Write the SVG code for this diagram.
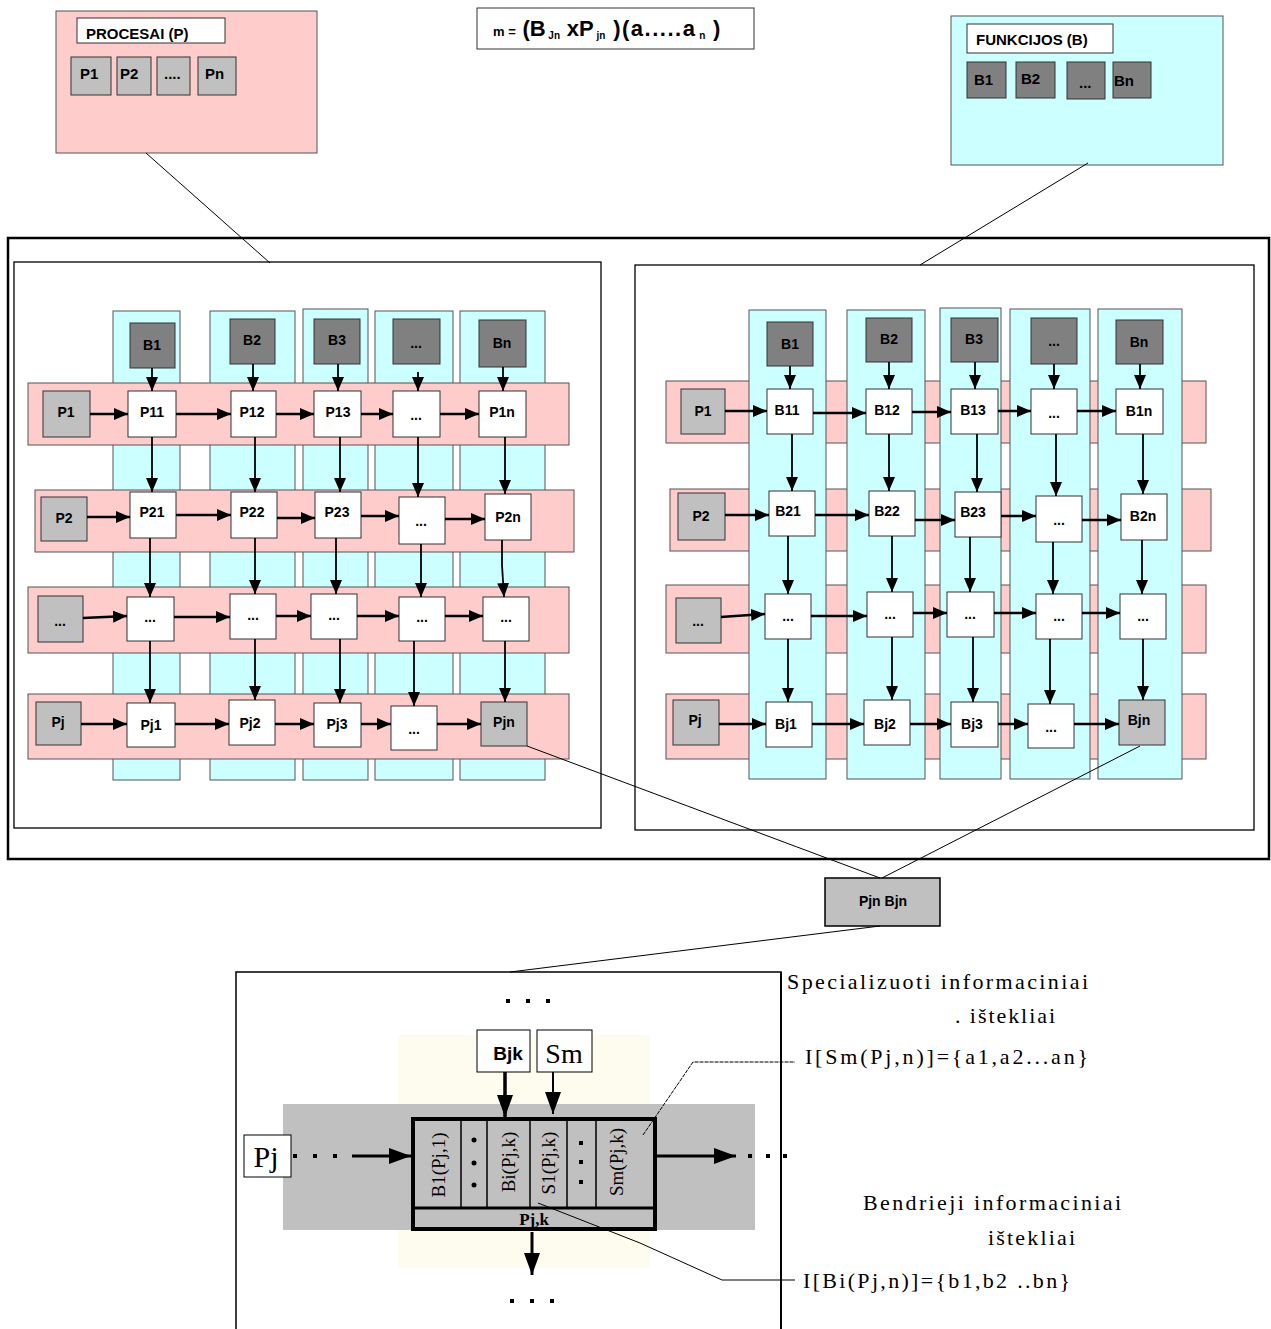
<svg xmlns="http://www.w3.org/2000/svg" width="1271" height="1329" viewBox="0 0 1271 1329">
<style>
.bg{fill:#fff}
.pink{fill:#ffcccc;stroke:#555;stroke-width:1}
.cyan{fill:#ccffff;stroke:#555;stroke-width:1}
.dk{fill:#808080;stroke:#333;stroke-width:1}
.lt{fill:#c0c0c0;stroke:#333;stroke-width:1}
.wh{fill:#fff;stroke:#333;stroke-width:1}
.frame{fill:none;stroke:#000;stroke-width:1.3}
.t{font-family:"Liberation Sans",Arial,sans-serif;font-weight:bold;font-size:14px;fill:#000;text-anchor:middle}
.tl{font-family:"Liberation Sans",Arial,sans-serif;font-weight:bold;font-size:15px;fill:#000}
.ser{font-family:"Liberation Serif","Times New Roman",serif;fill:#000}
.h{stroke:#000;stroke-width:2.5;fill:none}
.v{stroke:#000;stroke-width:1.8;fill:none}
.thin{stroke:#000;stroke-width:1;fill:none}
</style>
<defs>
<marker id="ah" markerUnits="userSpaceOnUse" markerWidth="14" markerHeight="12" refX="14" refY="6" orient="auto">
<path d="M0,0 L14,6 L0,12 z" fill="#000"/>
</marker>
<marker id="ahv" markerUnits="userSpaceOnUse" markerWidth="14" markerHeight="12" refX="14" refY="6" orient="auto">
<path d="M0,0 L14,6 L0,12 z" fill="#000"/>
</marker>
<marker id="ahb" markerUnits="userSpaceOnUse" markerWidth="22" markerHeight="16" refX="22" refY="8" orient="auto">
<path d="M0,0 L22,8 L0,16 z" fill="#000"/>
</marker>
</defs>
<rect class="bg" x="0" y="0" width="1271" height="1329"/>

<g id="procesai">
<rect class="pink" x="56" y="11" width="261" height="142"/>
<rect class="wh" x="77" y="18" width="148" height="25"/>
<text class="tl" x="86" y="39" font-size="14">PROCESAI (P)</text>
<rect class="lt" x="71" y="57" width="40" height="38"/><text class="tl" x="80" y="79">P1</text>
<rect class="lt" x="117" y="57" width="34" height="38"/><text class="tl" x="120" y="79">P2</text>
<rect class="lt" x="157" y="57" width="33" height="38"/><text class="tl" x="164" y="79" font-size="11">....</text>
<rect class="lt" x="198" y="57" width="38" height="38"/><text class="tl" x="205" y="79">Pn</text>
</g>

<g id="formula">
<rect x="477" y="8" width="277" height="41" fill="#fff" stroke="#333" stroke-width="1"/>
<text x="493" y="36" font-family="Liberation Sans,Arial,sans-serif" font-weight="bold" fill="#000"><tspan font-size="13">m = </tspan><tspan font-size="22" dx="3">(B</tspan><tspan font-size="10" dy="3"> Jn </tspan><tspan font-size="22" dy="-3" dx="4">xP</tspan><tspan font-size="10" dy="3"> jn </tspan><tspan font-size="22" dy="-3" dx="5" letter-spacing="1.5">)(a.....a</tspan><tspan font-size="10" dy="3"> n </tspan><tspan font-size="22" dy="-3" dx="5">)</tspan></text>
</g>

<g id="funkcijos">
<rect class="cyan" x="951" y="16" width="272" height="149"/>
<rect class="wh" x="967" y="24" width="146" height="29"/>
<text class="tl" x="976" y="45" font-size="15">FUNKCIJOS (B)</text>
<rect class="dk" x="967" y="62" width="39" height="36"/><text class="tl" x="974" y="85">B1</text>
<rect class="dk" x="1016" y="62" width="39" height="36"/><text class="tl" x="1021" y="84">B2</text>
<rect class="dk" x="1067" y="62" width="38" height="37"/><text class="tl" x="1079" y="88" font-size="11">...</text>
<rect class="dk" x="1113" y="62" width="38" height="36"/><text class="tl" x="1114" y="86">Bn</text>
</g>

<g id="frames">
<rect x="8" y="238" width="1261" height="621" fill="none" stroke="#000" stroke-width="2.5"/>
<rect class="frame" x="14" y="262" width="587" height="566"/>
<rect class="frame" x="635" y="265" width="619" height="565"/>
</g>

<g id="left-grid">
<rect class="cyan" x="113" y="311" width="67" height="469"/>
<rect class="cyan" x="210" y="311" width="85" height="469"/>
<rect class="cyan" x="303" y="309" width="65" height="471"/>
<rect class="cyan" x="375" y="311" width="78" height="469"/>
<rect class="cyan" x="460" y="311" width="85" height="469"/>
<rect class="pink" x="28" y="383" width="541" height="62"/>
<rect class="pink" x="35" y="490" width="539" height="62"/>
<rect class="pink" x="28" y="587" width="541" height="66"/>
<rect class="pink" x="28" y="694" width="541" height="65"/>

<g id="L-B1"><rect class="dk" x="130" y="323" width="45" height="45"/><text class="t" x="152" y="350">B1</text></g>
<g id="L-B2"><rect class="dk" x="230" y="319" width="45" height="45"/><text class="t" x="252" y="345">B2</text></g>
<g id="L-B3"><rect class="dk" x="314" y="319" width="46" height="45"/><text class="t" x="337" y="345">B3</text></g>
<g id="L-Bx"><rect class="dk" x="393" y="319" width="47" height="45"/><text class="t" x="416" y="348" font-size="10">...</text></g>
<g id="L-Bn"><rect class="dk" x="479" y="320" width="47" height="47"/><text class="t" x="502" y="348">Bn</text></g>

<g id="L-P1"><rect class="lt" x="43" y="391" width="47" height="46"/><text class="t" x="66" y="417">P1</text></g>
<g id="L-P11"><rect class="wh" x="128" y="391" width="48" height="46"/><text class="t" x="152" y="417">P11</text></g>
<g id="L-P12"><rect class="wh" x="231" y="391" width="45" height="46"/><text class="t" x="252" y="417">P12</text></g>
<g id="L-P13"><rect class="wh" x="314" y="391" width="47" height="46"/><text class="t" x="338" y="417">P13</text></g>
<g id="L-P1x"><rect class="wh" x="393" y="391" width="47" height="46"/><text class="t" x="416" y="420" font-size="10">...</text></g>
<g id="L-P1n"><rect class="wh" x="479" y="391" width="47" height="46"/><text class="t" x="502" y="417">P1n</text></g>

<g id="L-P2"><rect class="lt" x="41" y="497" width="46" height="44"/><text class="t" x="64" y="523">P2</text></g>
<g id="L-P21"><rect class="wh" x="130" y="492" width="46" height="46"/><text class="t" x="152" y="517">P21</text></g>
<g id="L-P22"><rect class="wh" x="231" y="492" width="46" height="46"/><text class="t" x="252" y="517">P22</text></g>
<g id="L-P23"><rect class="wh" x="315" y="492" width="46" height="46"/><text class="t" x="337" y="517">P23</text></g>
<g id="L-P2x"><rect class="wh" x="399" y="497" width="46" height="47"/><text class="t" x="421" y="526" font-size="10">...</text></g>
<g id="L-P2n"><rect class="wh" x="485" y="494" width="46" height="46"/><text class="t" x="508" y="522">P2n</text></g>

<g id="L-Px"><rect class="lt" x="38" y="596" width="45" height="46"/><text class="t" x="60" y="626" font-size="10">...</text></g>
<g id="L-Px1"><rect class="wh" x="127" y="597" width="47" height="44"/><text class="t" x="150" y="622" font-size="10">...</text></g>
<g id="L-Px2"><rect class="wh" x="230" y="594" width="46" height="45"/><text class="t" x="253" y="620" font-size="10">...</text></g>
<g id="L-Px3"><rect class="wh" x="311" y="594" width="46" height="45"/><text class="t" x="334" y="620" font-size="10">...</text></g>
<g id="L-Pxx"><rect class="wh" x="399" y="597" width="46" height="44"/><text class="t" x="422" y="622" font-size="10">...</text></g>
<g id="L-Pxn"><rect class="wh" x="483" y="597" width="46" height="44"/><text class="t" x="506" y="622" font-size="10">...</text></g>

<g id="L-Pj"><rect class="lt" x="36" y="702" width="45" height="43"/><text class="t" x="58" y="727">Pj</text></g>
<g id="L-Pj1"><rect class="wh" x="127" y="703" width="48" height="44"/><text class="t" x="151" y="730">Pj1</text></g>
<g id="L-Pj2"><rect class="wh" x="229" y="700" width="46" height="45"/><text class="t" x="250" y="728">Pj2</text></g>
<g id="L-Pj3"><rect class="wh" x="314" y="703" width="47" height="44"/><text class="t" x="337" y="729">Pj3</text></g>
<g id="L-Pjx"><rect class="wh" x="391" y="706" width="46" height="44"/><text class="t" x="414" y="734" font-size="10">...</text></g>
<g id="L-Pjn"><rect class="lt" x="481" y="702" width="46" height="44"/><text class="t" x="504" y="727">Pjn</text></g>
</g>

<g id="right-grid">
<rect class="pink" x="666" y="381" width="540" height="62"/>
<rect class="pink" x="670" y="489" width="541" height="62"/>
<rect class="pink" x="666" y="585" width="540" height="68"/>
<rect class="pink" x="666" y="694" width="540" height="65"/>
<rect class="cyan" x="749" y="310" width="77" height="469"/>
<rect class="cyan" x="847" y="310" width="78" height="469"/>
<rect class="cyan" x="940" y="308" width="61" height="471"/>
<rect class="cyan" x="1010" y="309" width="80" height="470"/>
<rect class="cyan" x="1098" y="309" width="84" height="470"/>

<g id="R-B1"><rect class="dk" x="767" y="322" width="46" height="44"/><text class="t" x="790" y="349">B1</text></g>
<g id="R-B2"><rect class="dk" x="866" y="318" width="46" height="44"/><text class="t" x="889" y="344">B2</text></g>
<g id="R-B3"><rect class="dk" x="951" y="318" width="47" height="44"/><text class="t" x="974" y="344">B3</text></g>
<g id="R-Bx"><rect class="dk" x="1031" y="318" width="46" height="46"/><text class="t" x="1054" y="346" font-size="10">...</text></g>
<g id="R-Bn"><rect class="dk" x="1116" y="320" width="47" height="44"/><text class="t" x="1139" y="347">Bn</text></g>

<g id="R-P1"><rect class="lt" x="681" y="389" width="44" height="45"/><text class="t" x="703" y="416">P1</text></g>
<g id="R-B11"><rect class="wh" x="767" y="389" width="46" height="45"/><text class="t" x="787" y="415">B11</text></g>
<g id="R-B12"><rect class="wh" x="866" y="389" width="46" height="45"/><text class="t" x="887" y="415">B12</text></g>
<g id="R-B13"><rect class="wh" x="951" y="389" width="47" height="45"/><text class="t" x="973" y="415">B13</text></g>
<g id="R-B1x"><rect class="wh" x="1031" y="389" width="46" height="45"/><text class="t" x="1054" y="418" font-size="10">...</text></g>
<g id="R-B1n"><rect class="wh" x="1116" y="389" width="47" height="45"/><text class="t" x="1139" y="416">B1n</text></g>

<g id="R-P2"><rect class="lt" x="678" y="493" width="47" height="47"/><text class="t" x="701" y="521">P2</text></g>
<g id="R-B21"><rect class="wh" x="769" y="491" width="46" height="45"/><text class="t" x="788" y="516">B21</text></g>
<g id="R-B22"><rect class="wh" x="869" y="491" width="46" height="45"/><text class="t" x="887" y="516">B22</text></g>
<g id="R-B23"><rect class="wh" x="955" y="492" width="46" height="45"/><text class="t" x="973" y="517">B23</text></g>
<g id="R-B2x"><rect class="wh" x="1036" y="496" width="46" height="46"/><text class="t" x="1059" y="525" font-size="10">...</text></g>
<g id="R-B2n"><rect class="wh" x="1121" y="494" width="46" height="46"/><text class="t" x="1143" y="521">B2n</text></g>

<g id="R-Px"><rect class="lt" x="676" y="598" width="45" height="45"/><text class="t" x="698" y="626" font-size="10">...</text></g>
<g id="R-Bx1"><rect class="wh" x="765" y="594" width="46" height="45"/><text class="t" x="788" y="621" font-size="10">...</text></g>
<g id="R-Bx2"><rect class="wh" x="867" y="592" width="46" height="45"/><text class="t" x="890" y="619" font-size="10">...</text></g>
<g id="R-Bx3"><rect class="wh" x="947" y="592" width="47" height="45"/><text class="t" x="970" y="619" font-size="10">...</text></g>
<g id="R-Bxx"><rect class="wh" x="1036" y="594" width="46" height="45"/><text class="t" x="1059" y="621" font-size="10">...</text></g>
<g id="R-Bxn"><rect class="wh" x="1120" y="594" width="46" height="45"/><text class="t" x="1143" y="621" font-size="10">...</text></g>

<g id="R-Pj"><rect class="lt" x="673" y="700" width="46" height="45"/><text class="t" x="695" y="725">Pj</text></g>
<g id="R-Bj1"><rect class="wh" x="766" y="702" width="46" height="45"/><text class="t" x="786" y="729">Bj1</text></g>
<g id="R-Bj2"><rect class="wh" x="864" y="700" width="46" height="45"/><text class="t" x="885" y="729">Bj2</text></g>
<g id="R-Bj3"><rect class="wh" x="951" y="702" width="47" height="45"/><text class="t" x="972" y="729">Bj3</text></g>
<g id="R-Bjx"><rect class="wh" x="1028" y="704" width="46" height="44"/><text class="t" x="1051" y="732" font-size="10">...</text></g>
<g id="R-Bjn"><rect class="lt" x="1119" y="700" width="46" height="45"/><text class="t" x="1139" y="725">Bjn</text></g>
</g>

<g id="pjnbjn"><rect x="825" y="878" width="115" height="48" fill="#c0c0c0" stroke="#000" stroke-width="1.5"/><text class="t" x="883" y="906" font-size="15">Pjn Bjn</text></g>

<g id="detail">
<path d="M236,1329 V972 H781 V1329" fill="none" stroke="#000" stroke-width="1.5"/>
<line x1="781" y1="972" x2="781" y2="1329" stroke="#000" stroke-width="2"/>
<rect x="398" y="1035" width="252" height="233" fill="#fdfcee"/>
<rect x="283" y="1104" width="472" height="126" fill="#c0c0c0"/>
<g id="Bjk"><rect x="477" y="1030" width="53" height="42" fill="#fff" stroke="#000" stroke-width="1"/><text x="508" y="1060" font-family="Liberation Sans,Arial,sans-serif" font-weight="bold" font-size="19" text-anchor="middle">Bjk</text></g>
<g id="Sm"><rect x="537" y="1030" width="55" height="42" fill="#fff" stroke="#000" stroke-width="1"/><text class="ser" x="564" y="1063" font-size="28" text-anchor="middle">Sm</text></g>
<g id="PjBox"><rect x="244" y="1135" width="47" height="42" fill="#fff" stroke="#000" stroke-width="1"/><text class="ser" x="266" y="1167" font-size="30" text-anchor="middle">Pj</text></g>
<g id="component">
<rect x="413" y="1119" width="242" height="110" fill="#c0c0c0" stroke="#000" stroke-width="4"/>
<line x1="413" y1="1208" x2="655" y2="1208" stroke="#000" stroke-width="3"/>
<line x1="461" y1="1121" x2="461" y2="1208" stroke="#000" stroke-width="1.5"/>
<line x1="487" y1="1121" x2="487" y2="1208" stroke="#000" stroke-width="1.5"/>
<line x1="530" y1="1121" x2="530" y2="1208" stroke="#000" stroke-width="1.5"/>
<line x1="567" y1="1121" x2="567" y2="1208" stroke="#000" stroke-width="1.5"/>
<line x1="596" y1="1121" x2="596" y2="1208" stroke="#000" stroke-width="1.5"/>
<text class="ser" font-size="19" text-anchor="middle" transform="translate(445,1165) rotate(-90)">B1(Pj,1)</text>
<text class="ser" font-size="19" text-anchor="middle" transform="translate(515,1162) rotate(-90)">Bi(Pj,k)</text>
<text class="ser" font-size="19" text-anchor="middle" transform="translate(555,1163) rotate(-90)">S1(Pj,k)</text>
<text class="ser" font-size="19" text-anchor="middle" transform="translate(623,1162) rotate(-90)">Sm(Pj,k)</text>
<circle cx="474" cy="1140" r="2.5"/><circle cx="474" cy="1163" r="2.5"/><circle cx="474" cy="1185" r="2.5"/>
<rect x="579" y="1141" width="4" height="4"/><rect x="579" y="1160" width="4" height="4"/><rect x="579" y="1180" width="4" height="4"/>
<text class="ser" x="534" y="1225" font-size="17" font-weight="bold" text-anchor="middle">Pj,k</text>
</g>
<g id="dots">
<rect x="506" y="999" width="4" height="4"/><rect x="526" y="999" width="4" height="4"/><rect x="546" y="999" width="4" height="4"/>
<rect x="510" y="1299" width="4" height="4"/><rect x="530" y="1299" width="4" height="4"/><rect x="550" y="1299" width="4" height="4"/>
<rect x="293" y="1154" width="4" height="4"/><rect x="313" y="1154" width="4" height="4"/><rect x="333" y="1154" width="4" height="4"/>
<rect x="748" y="1154" width="4" height="4"/><rect x="766" y="1154" width="4" height="4"/><rect x="783" y="1154" width="4" height="4"/>
</g>
<g id="texts">
<text class="ser" x="787" y="989" font-size="22" textLength="301" lengthAdjust="spacing">Specializuoti informaciniai</text>
<text class="ser" x="955" y="1023" font-size="22" textLength="100" lengthAdjust="spacing">. ištekliai</text>
<text class="ser" x="805" y="1064" font-size="22" textLength="283" lengthAdjust="spacing">I[Sm(Pj,n)]={a1,a2...an}</text>
<text class="ser" x="863" y="1210" font-size="22" textLength="258" lengthAdjust="spacing">Bendrieji informaciniai</text>
<text class="ser" x="988" y="1245" font-size="22" textLength="87" lengthAdjust="spacing">ištekliai</text>
<text class="ser" x="803" y="1288" font-size="22" textLength="267" lengthAdjust="spacing">I[Bi(Pj,n)]={b1,b2 ..bn}</text>
</g>
</g>

<g id="connectors">
<line class="thin" x1="146" y1="153" x2="270" y2="263"/>
<line class="thin" x1="1088" y1="163" x2="920" y2="265"/>
<line class="thin" x1="527" y1="746" x2="880" y2="878" stroke-width="1.3"/>
<line class="thin" x1="1140" y1="746" x2="882" y2="878" stroke-width="1.3"/>
<line class="thin" x1="880" y1="926" x2="510" y2="972" stroke-width="1.5"/>

<g marker-end="url(#ahv)" class="v">
<line x1="152" y1="368" x2="152" y2="391"/><line x1="253" y1="364" x2="253" y2="391"/><line x1="338" y1="364" x2="338" y2="391"/><line x1="418" y1="372" x2="418" y2="391"/><line x1="503" y1="367" x2="503" y2="391"/>
<line x1="152" y1="437" x2="152" y2="492"/><line x1="255" y1="437" x2="255" y2="492"/><line x1="340" y1="437" x2="340" y2="492"/><line x1="418" y1="437" x2="418" y2="497"/><line x1="505" y1="437" x2="505" y2="494"/>
<line x1="150" y1="538" x2="150" y2="597"/><line x1="255" y1="538" x2="255" y2="594"/><line x1="336" y1="538" x2="336" y2="594"/><line x1="421" y1="544" x2="421" y2="597"/><polyline points="502,540 502,565 504,597"/>
<line x1="150" y1="641" x2="150" y2="703"/><line x1="255" y1="639" x2="255" y2="700"/><line x1="340" y1="639" x2="340" y2="703"/><line x1="414" y1="641" x2="414" y2="706"/><line x1="505" y1="641" x2="505" y2="702"/>
</g>
<g marker-end="url(#ah)" class="h">
<line x1="90" y1="414" x2="128" y2="414"/><line x1="176" y1="414" x2="231" y2="414"/><line x1="276" y1="414" x2="314" y2="414"/><line x1="361" y1="414" x2="393" y2="414"/><line x1="440" y1="414" x2="479" y2="414"/>
<line x1="87" y1="517" x2="130" y2="517"/><line x1="176" y1="515" x2="231" y2="515"/><line x1="277" y1="518" x2="315" y2="518"/><line x1="361" y1="516" x2="399" y2="516"/><line x1="445" y1="519" x2="485" y2="519"/>
<line x1="83" y1="618" x2="127" y2="616"/><line x1="174" y1="617" x2="230" y2="617"/><line x1="276" y1="616" x2="311" y2="616"/><line x1="357" y1="616" x2="399" y2="616"/><line x1="445" y1="616" x2="483" y2="616"/>
<line x1="81" y1="724" x2="127" y2="724"/><line x1="175" y1="724" x2="229" y2="724"/><line x1="275" y1="724" x2="314" y2="724"/><line x1="361" y1="724" x2="391" y2="724"/><line x1="437" y1="724" x2="481" y2="724"/>
</g>
<g marker-end="url(#ahv)" class="v">
<line x1="790" y1="366" x2="790" y2="389"/><line x1="889" y1="362" x2="889" y2="389"/><line x1="975" y1="362" x2="975" y2="389"/><line x1="1054" y1="364" x2="1054" y2="389"/><line x1="1140" y1="364" x2="1140" y2="389"/>
<line x1="792" y1="434" x2="792" y2="491"/><line x1="889" y1="434" x2="889" y2="491"/><line x1="977" y1="434" x2="977" y2="492"/><line x1="1056" y1="434" x2="1056" y2="496"/><line x1="1143" y1="434" x2="1143" y2="494"/>
<line x1="788" y1="536" x2="788" y2="594"/><line x1="892" y1="536" x2="892" y2="592"/><line x1="970" y1="537" x2="970" y2="592"/><line x1="1053" y1="542" x2="1053" y2="594"/><line x1="1142" y1="540" x2="1142" y2="594"/>
<line x1="788" y1="639" x2="788" y2="702"/><line x1="892" y1="637" x2="892" y2="700"/><line x1="973" y1="637" x2="973" y2="702"/><line x1="1050" y1="639" x2="1050" y2="704"/><line x1="1143" y1="639" x2="1143" y2="700"/>
</g>
<g marker-end="url(#ah)" class="h">
<line x1="725" y1="411" x2="767" y2="411"/><line x1="813" y1="413" x2="866" y2="413"/><line x1="912" y1="412" x2="951" y2="412"/><line x1="998" y1="411" x2="1031" y2="411"/><line x1="1077" y1="411" x2="1116" y2="411"/>
<line x1="725" y1="515" x2="769" y2="515"/><line x1="815" y1="515" x2="869" y2="515"/><line x1="915" y1="520" x2="955" y2="520"/><line x1="1001" y1="516" x2="1036" y2="516"/><line x1="1082" y1="520" x2="1121" y2="520"/>
<line x1="721" y1="617" x2="765" y2="614"/><line x1="811" y1="616" x2="867" y2="616"/><line x1="913" y1="613" x2="947" y2="613"/><line x1="994" y1="613" x2="1036" y2="613"/><line x1="1082" y1="613" x2="1120" y2="613"/>
<line x1="719" y1="724" x2="766" y2="724"/><line x1="812" y1="724" x2="864" y2="724"/><line x1="910" y1="724" x2="951" y2="724"/><line x1="998" y1="724" x2="1028" y2="724"/><line x1="1074" y1="724" x2="1119" y2="724"/>
</g>
<line x1="505" y1="1072" x2="505" y2="1117" stroke="#000" stroke-width="3.5" marker-end="url(#ahb)"/>
<line x1="553" y1="1072" x2="553" y2="1114" stroke="#000" stroke-width="2" marker-end="url(#ahb)"/>
<line x1="352" y1="1156" x2="411" y2="1156" stroke="#000" stroke-width="3" marker-end="url(#ahb)"/>
<line x1="656" y1="1156" x2="736" y2="1156" stroke="#000" stroke-width="3" marker-end="url(#ahb)"/>
<line x1="532" y1="1232" x2="532" y2="1275" stroke="#000" stroke-width="3" marker-end="url(#ahb)"/>
<polyline class="thin" points="643,1135 693,1062 795,1062" stroke-dasharray="4,1"/>
<polyline class="thin" points="538,1203 640,1243 722,1280 795,1280"/>
</g>
</svg>
